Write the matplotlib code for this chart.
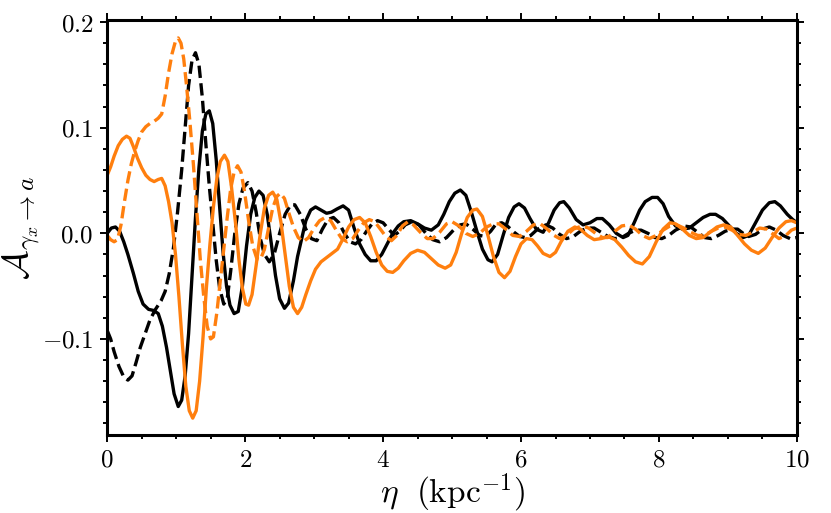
import numpy as np
import matplotlib
matplotlib.use("Agg")
import matplotlib.pyplot as plt
from matplotlib.ticker import MultipleLocator, FuncFormatter

# curve values (eta in kpc^-1)
eta_bs = [0.00, 0.06, 0.12, 0.18, 0.24, 0.30, 0.38, 0.45, 0.52, 0.60, 0.67, 0.74, 0.80, 0.86, 0.92, 0.97,
          1.03, 1.08, 1.13, 1.18, 1.23, 1.28, 1.33, 1.38, 1.43, 1.48, 1.53, 1.58, 1.63, 1.68, 1.73, 1.78,
          1.84, 1.90, 1.96, 2.02, 2.08, 2.14, 2.20, 2.26, 2.32, 2.38, 2.44, 2.50, 2.57, 2.63, 2.70, 2.76,
          2.82, 2.88, 2.95, 3.02, 3.10, 3.18, 3.25, 3.33, 3.42, 3.50, 3.58, 3.66, 3.74, 3.82, 3.90, 3.98,
          4.06, 4.14, 4.22, 4.30, 4.40, 4.50, 4.60, 4.70, 4.80, 4.88, 4.96, 5.04, 5.12, 5.20, 5.28, 5.36,
          5.44, 5.52, 5.58, 5.66, 5.74, 5.82, 5.90, 5.97, 6.05, 6.13, 6.22, 6.32, 6.40, 6.48, 6.56, 6.62,
          6.70, 6.80, 6.90, 7.00, 7.10, 7.18, 7.28, 7.38, 7.48, 7.55, 7.64, 7.72, 7.80, 7.90, 7.98, 8.06,
          8.14, 8.24, 8.34, 8.44, 8.54, 8.64, 8.74, 8.82, 8.92, 9.02, 9.12, 9.22, 9.30, 9.40, 9.50, 9.60,
          9.68, 9.76, 9.86, 9.94, 10.0]
A_bs = [0.000, 0.005, 0.006, 0.002, -0.008, -0.020, -0.038, -0.055, -0.067, -0.072, -0.073, -0.076, -0.088, -0.108, -0.132, -0.152,
        -0.164, -0.158, -0.135, -0.095, -0.040, 0.015, 0.062, 0.097, 0.113, 0.116, 0.104, 0.070, 0.025, -0.018, -0.050, -0.068,
        -0.076, -0.074, -0.050, -0.012, 0.018, 0.034, 0.040, 0.036, 0.018, -0.010, -0.040, -0.062, -0.071, -0.066, -0.045, -0.022,
        -0.005, 0.012, 0.022, 0.025, 0.022, 0.019, 0.020, 0.023, 0.026, 0.022, 0.005, -0.010, -0.020, -0.026, -0.026, -0.020,
        -0.010, 0.000, 0.007, 0.011, 0.012, 0.009, 0.005, 0.003, 0.008, 0.018, 0.030, 0.038, 0.041, 0.036, 0.020, 0.002,
        -0.015, -0.025, -0.027, -0.020, -0.002, 0.015, 0.025, 0.028, 0.024, 0.014, 0.004, 0.001, 0.010, 0.022, 0.029, 0.030,
        0.024, 0.013, 0.008, 0.010, 0.014, 0.014, 0.008, 0.000, -0.004, -0.002, 0.010, 0.022, 0.030, 0.034, 0.034, 0.028,
        0.016, 0.007, 0.004, 0.005, 0.010, 0.015, 0.018, 0.018, 0.014, 0.007, 0.000, -0.004, -0.002, 0.010, 0.022, 0.029,
        0.030, 0.026, 0.018, 0.013, 0.010]

eta_bd = [0.00, 0.05, 0.10, 0.17, 0.24, 0.30, 0.36, 0.42, 0.48, 0.55, 0.62, 0.70, 0.78, 0.84, 0.90, 0.96,
          1.02, 1.08, 1.13, 1.18, 1.23, 1.28, 1.33, 1.38, 1.43, 1.48, 1.53, 1.58, 1.63, 1.69, 1.74, 1.79,
          1.85, 1.91, 1.97, 2.04, 2.10, 2.16, 2.22, 2.28, 2.35, 2.42, 2.50, 2.58, 2.66, 2.72, 2.80, 2.88,
          2.96, 3.04, 3.12, 3.20, 3.28, 3.36, 3.44, 3.52, 3.60, 3.68, 3.76, 3.84, 3.92, 4.00, 4.08, 4.16,
          4.24, 4.32, 4.42, 4.52, 4.62, 4.72, 4.82, 4.92, 5.02, 5.12, 5.20, 5.30, 5.40, 5.48, 5.56, 5.64,
          5.72, 5.80, 5.90, 5.98, 6.06, 6.14, 6.24, 6.36, 6.46, 6.56, 6.66, 6.76, 6.86, 6.96, 7.06, 7.16,
          7.26, 7.36, 7.46, 7.56, 7.66, 7.74, 7.84, 7.94, 8.04, 8.14, 8.24, 8.36, 8.46, 8.56, 8.66, 8.76,
          8.86, 8.96, 9.06, 9.14, 9.22, 9.30, 9.40, 9.50, 9.60, 9.70, 9.80, 9.90, 10.0]
A_bd = [-0.092, -0.100, -0.112, -0.126, -0.136, -0.139, -0.135, -0.122, -0.108, -0.095, -0.082, -0.072, -0.064, -0.055, -0.038, -0.014,
        0.020, 0.060, 0.100, 0.140, 0.164, 0.171, 0.160, 0.128, 0.085, 0.045, 0.010, -0.025, -0.052, -0.067, -0.062, -0.036,
        0.000, 0.028, 0.043, 0.048, 0.040, 0.020, -0.005, -0.020, -0.027, -0.020, 0.000, 0.018, 0.027, 0.027, 0.018, 0.004,
        -0.005, -0.007, 0.004, 0.013, 0.015, 0.010, 0.000, -0.008, -0.010, -0.006, 0.002, 0.009, 0.012, 0.010, 0.004, -0.002,
        0.002, 0.008, 0.011, 0.008, 0.000, -0.006, -0.008, -0.004, 0.003, 0.008, 0.009, 0.004, -0.002, -0.003, 0.002, 0.009,
        0.010, 0.007, 0.001, -0.003, -0.004, -0.002, 0.004, 0.008, 0.005, -0.001, -0.005, -0.003, 0.002, 0.005, 0.005, 0.001,
        -0.003, -0.005, -0.004, 0.000, 0.003, 0.003, 0.000, -0.004, -0.005, -0.002, 0.003, 0.007, 0.006, 0.001, -0.004, -0.005,
        -0.002, 0.002, 0.004, 0.004, 0.000, -0.003, -0.001, 0.004, 0.006, 0.003, -0.002, -0.005, -0.004]

eta_os = [0.00, 0.05, 0.10, 0.16, 0.22, 0.28, 0.33, 0.38, 0.44, 0.50, 0.56, 0.62, 0.68, 0.74, 0.79, 0.84,
          0.89, 0.94, 0.99, 1.04, 1.09, 1.14, 1.19, 1.24, 1.29, 1.34, 1.39, 1.44, 1.49, 1.54, 1.59, 1.64,
          1.70, 1.75, 1.80, 1.86, 1.91, 1.96, 2.01, 2.05, 2.10, 2.16, 2.22, 2.28, 2.34, 2.40, 2.46, 2.52,
          2.58, 2.64, 2.70, 2.76, 2.82, 2.88, 2.95, 3.02, 3.10, 3.18, 3.26, 3.34, 3.42, 3.50, 3.58, 3.66,
          3.74, 3.82, 3.90, 3.98, 4.06, 4.14, 4.22, 4.30, 4.40, 4.50, 4.60, 4.70, 4.80, 4.90, 4.98, 5.06,
          5.14, 5.22, 5.30, 5.36, 5.44, 5.52, 5.60, 5.68, 5.76, 5.84, 5.92, 6.00, 6.08, 6.16, 6.24, 6.32,
          6.42, 6.50, 6.58, 6.68, 6.78, 6.86, 6.96, 7.06, 7.16, 7.26, 7.36, 7.46, 7.56, 7.66, 7.76, 7.86,
          7.96, 8.06, 8.16, 8.24, 8.34, 8.44, 8.54, 8.64, 8.74, 8.84, 8.94, 9.04, 9.14, 9.24, 9.34, 9.44,
          9.54, 9.64, 9.74, 9.84, 9.92, 10.0]
A_os = [0.055, 0.063, 0.073, 0.083, 0.089, 0.092, 0.090, 0.082, 0.071, 0.062, 0.055, 0.051, 0.049, 0.051, 0.052, 0.045,
        0.030, 0.010, -0.020, -0.060, -0.105, -0.145, -0.168, -0.175, -0.168, -0.140, -0.098, -0.050, -0.010, 0.025, 0.052, 0.068,
        0.074, 0.068, 0.045, 0.010, -0.025, -0.052, -0.067, -0.068, -0.058, -0.030, 0.000, 0.024, 0.036, 0.039, 0.032, 0.010,
        -0.020, -0.050, -0.070, -0.076, -0.070, -0.058, -0.045, -0.034, -0.027, -0.023, -0.019, -0.015, -0.005, 0.006, 0.013, 0.015,
        0.010, -0.003, -0.018, -0.030, -0.036, -0.037, -0.033, -0.026, -0.019, -0.016, -0.018, -0.024, -0.030, -0.033, -0.030, -0.018,
        0.000, 0.015, 0.022, 0.023, 0.016, -0.002, -0.022, -0.037, -0.042, -0.036, -0.022, -0.010, -0.005, -0.006, -0.012, -0.019,
        -0.022, -0.018, -0.008, 0.002, 0.006, 0.004, -0.002, -0.006, -0.005, -0.003, -0.006, -0.013, -0.021, -0.027, -0.029, -0.022,
        -0.008, 0.004, 0.010, 0.009, 0.004, -0.002, -0.005, -0.004, 0.001, 0.006, 0.008, 0.006, -0.002, -0.010, -0.016, -0.019,
        -0.014, -0.004, 0.005, 0.011, 0.012, 0.010]

eta_od = [0.00, 0.05, 0.10, 0.15, 0.20, 0.25, 0.30, 0.35, 0.40, 0.45, 0.50, 0.56, 0.62, 0.68, 0.74, 0.79,
          0.84, 0.89, 0.94, 0.99, 1.03, 1.07, 1.11, 1.15, 1.20, 1.25, 1.30, 1.35, 1.40, 1.45, 1.50, 1.54,
          1.59, 1.64, 1.69, 1.74, 1.79, 1.84, 1.89, 1.94, 1.99, 2.05, 2.11, 2.17, 2.22, 2.28, 2.34, 2.40,
          2.46, 2.51, 2.57, 2.63, 2.70, 2.77, 2.84, 2.92, 3.00, 3.08, 3.16, 3.24, 3.32, 3.40, 3.48, 3.56,
          3.64, 3.72, 3.80, 3.88, 3.96, 4.04, 4.12, 4.20, 4.28, 4.36, 4.44, 4.54, 4.64, 4.72, 4.82, 4.92,
          5.00, 5.10, 5.20, 5.30, 5.40, 5.50, 5.60, 5.68, 5.78, 5.88, 5.98, 6.08, 6.18, 6.28, 6.38, 6.48,
          6.56, 6.66, 6.76, 6.88, 6.98, 7.08, 7.18, 7.26, 7.36, 7.46, 7.56, 7.66, 7.76, 7.86, 7.96, 8.06,
          8.16, 8.26, 8.36, 8.46, 8.56, 8.66, 8.76, 8.86, 8.96, 9.06, 9.16, 9.26, 9.36, 9.46, 9.56, 9.66,
          9.74, 9.84, 9.92, 10.0]
A_od = [-0.002, -0.006, -0.008, -0.006, 0.008, 0.030, 0.050, 0.066, 0.078, 0.088, 0.096, 0.101, 0.104, 0.106, 0.109, 0.113,
        0.130, 0.152, 0.170, 0.182, 0.185, 0.180, 0.165, 0.140, 0.105, 0.065, 0.020, -0.025, -0.060, -0.088, -0.100, -0.098,
        -0.075, -0.045, -0.015, 0.015, 0.042, 0.058, 0.064, 0.058, 0.040, 0.012, -0.012, -0.024, -0.025, -0.015, 0.005, 0.024,
        0.035, 0.038, 0.033, 0.020, 0.006, -0.004, -0.008, -0.004, 0.005, 0.012, 0.015, 0.012, 0.003, -0.005, -0.008, -0.005,
        0.003, 0.010, 0.013, 0.011, 0.004, -0.003, -0.007, -0.002, 0.007, 0.011, 0.008, 0.001, -0.005, -0.005, 0.001, 0.009,
        0.011, 0.007, 0.000, -0.003, 0.000, 0.006, 0.009, 0.009, 0.004, -0.002, -0.003, 0.002, 0.008, 0.009, 0.004, -0.002,
        -0.005, -0.002, 0.004, 0.007, 0.005, 0.000, -0.004, -0.004, 0.002, 0.007, 0.008, 0.004, -0.002, -0.005, -0.002, 0.003,
        0.007, 0.008, 0.005, 0.001, -0.002, -0.002, 0.002, 0.005, 0.006, 0.003, -0.001, -0.002, 0.001, 0.005, 0.004, -0.001,
        -0.005, -0.002, 0.003, 0.005]

black = "black"
orange = "#ff7f0e"

plt.rcParams["mathtext.fontset"] = "cm"
plt.rcParams["font.family"] = "serif"
plt.rcParams["font.serif"] = ["DejaVu Serif"]

fig = plt.figure(figsize=(8.31, 5.13), dpi=100)
ax = fig.add_axes([0.129, 0.152, 0.830, 0.809])

lw = 2.4
ax.plot(eta_bs, A_bs, color=black, lw=lw, ls="-")
ax.plot(eta_bd, A_bd, color=black, lw=lw, ls="--")
ax.plot(eta_os, A_os, color=orange, lw=lw, ls="-")
ax.plot(eta_od, A_od, color=orange, lw=lw, ls="--")

ax.set_xlim(0, 10)
ax.set_ylim(-0.191, 0.202)

ax.xaxis.set_major_locator(MultipleLocator(2))
ax.xaxis.set_minor_locator(MultipleLocator(0.5))
ax.yaxis.set_major_locator(MultipleLocator(0.1))
ax.yaxis.set_minor_locator(MultipleLocator(0.02))
ax.xaxis.set_major_formatter(FuncFormatter(lambda v, p: r"$%d$" % round(v)))
ax.yaxis.set_major_formatter(FuncFormatter(lambda v, p: r"$%.1f$" % (0.0 if abs(v) < 1e-9 else v)))

for s in ax.spines.values():
    s.set_linewidth(2.2)
ax.tick_params(which="both", direction="out", top=True, right=True, width=1.4, labelsize=18)
ax.tick_params(which="major", length=5, pad=5)
ax.tick_params(which="minor", length=3)

ax.set_xlabel(r"$\eta\ \ (\mathrm{kpc}^{-1})$", fontsize=24, labelpad=0)
ax.set_ylabel(r"$\mathcal{A}_{\gamma_x \to a}$", fontsize=26, labelpad=0)

fig.savefig("out.png", dpi=100)
